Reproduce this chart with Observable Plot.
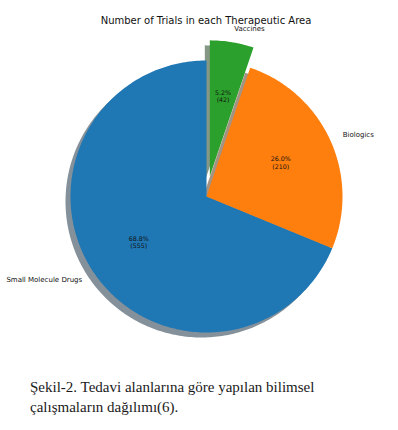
<!DOCTYPE html>
<html><head><meta charset="utf-8">
<script src="https://cdn.jsdelivr.net/npm/d3@7"></script>
<script src="https://cdn.jsdelivr.net/npm/@observablehq/plot@0.6"></script>
<style>
body{margin:0;background:#fff;}
#wrap{position:relative;width:398px;height:430px;overflow:hidden;}
#caption{position:absolute;left:30px;top:377px;font:15px/20px "Liberation Serif","Times New Roman",serif;color:#1a1a1a;white-space:nowrap;}
</style></head><body>
<div id="wrap"><div id="chart"></div>
<div id="caption">Şekil-2. Tedavi alanlarına göre yapılan bilimsel<br>çalışmaların dağılımı(6).</div></div>
<script>
const title = "Number of Trials in each Therapeutic Area";
const categories = ["Small Molecule Drugs", "Biologics", "Vaccines"];
const counts = [555, 210, 42];
const colors = ["#1f77b4", "#ff7f0e", "#2ca02c"];
const explode = [0, 0, 0.15];
const startAngle = 90;

const total = d3.sum(counts);
const rad = d => d * Math.PI / 180;
let acc = startAngle;
const wedges = categories.map((name, i) => {
  const span = counts[i] / total * 360;
  const w = {name, count: counts[i], frac: counts[i] / total, a0: acc, a1: acc + span,
    mid: acc + span / 2, color: colors[i], explode: explode[i]};
  acc += span;
  return w;
});
// shadow colour like matplotlib: rgb*0.3 at alpha .5
const shade = c => { const k = d3.rgb(c); return d3.rgb(k.r * 0.3, k.g * 0.3, k.b * 0.3).formatHex(); };

function wedgePoints(w) {
  const cx = w.explode * Math.cos(rad(w.mid)), cy = w.explode * Math.sin(rad(w.mid));
  const p = [{x: cx, y: cy}];
  const n = Math.max(4, Math.ceil(w.a1 - w.a0));
  for (let k = 0; k <= n; k++) {
    const t = rad(w.a0 + (w.a1 - w.a0) * k / n);
    p.push({x: cx + Math.cos(t), y: cy + Math.sin(t)});
  }
  p.push({x: cx, y: cy});
  return p;
}

const labels = wedges.map(w => {
  const d = 1.1 + w.explode;
  return {name: w.name, x: d * Math.cos(rad(w.mid)), y: d * Math.sin(rad(w.mid))};
});
const pcts = wedges.map(w => {
  const d = 0.6 + w.explode;
  return {text: `${(w.frac * 100).toFixed(1)}%\n(${w.count})`, x: d * Math.cos(rad(w.mid)), y: d * Math.sin(rad(w.mid))};
});

const marks = [];
wedges.forEach(w => marks.push(Plot.line(wedgePoints(w), {x: "x", y: "y", fill: shade(w.color), fillOpacity: 0.5, stroke: "none", dx: -5, dy: 5})));
wedges.forEach(w => marks.push(Plot.line(wedgePoints(w), {x: "x", y: "y", fill: w.color, stroke: "none"})));
marks.push(Plot.text(labels.filter(d => d.x > 0), {x: "x", y: "y", text: "name", textAnchor: "start", fontSize: 7, fill: "#111"}));
marks.push(Plot.text(labels.filter(d => d.x <= 0), {x: "x", y: "y", text: "name", textAnchor: "end", fontSize: 7, fill: "#111"}));
marks.push(Plot.text(pcts, {x: "x", y: "y", text: "text", fontSize: 6.3, lineHeight: 1.15, fill: "#111"}));
marks.push(Plot.text([title], {text: d => d, frameAnchor: "top", lineAnchor: "middle", dy: 20.5, dx: 6.5, fontSize: 10, fill: "#111"}));

const chart = Plot.plot({
  width: 398, height: 372, margin: 0,
  style: {fontFamily: "DejaVu Sans", background: "white", overflow: "visible"},
  x: {domain: [-1, 1], range: [70, 342], axis: null},
  y: {domain: [-1, 1], range: [332, 60], axis: null},
  marks
});
document.getElementById("chart").appendChild(chart);
</script>
</body></html>
